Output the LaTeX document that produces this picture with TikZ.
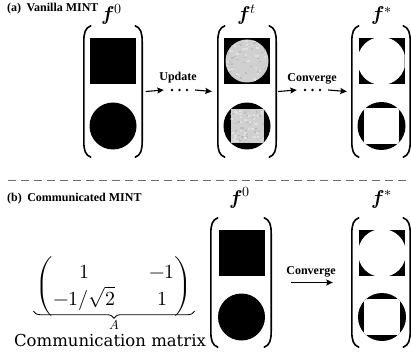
\documentclass[tikz,border=0pt]{standalone}
\usepackage{amsmath}
\usepackage{fontspec}
\usepackage{unicode-math}
\setmathfont{Latin Modern Math}
\newfontfamily\tnr{Liberation Serif}
\newfontfamily\dvs{DejaVu Serif}
\usetikzlibrary{arrows.meta,decorations.pathreplacing}
\definecolor{greyfill}{RGB}{208,208,208}
\definecolor{greydark}{RGB}{188,188,188}
\definecolor{greylight}{RGB}{224,224,224}
\definecolor{dashgrey}{RGB}{110,110,110}
\newcommand\speckle[3]{%
  \foreach \k in {1,...,70}{%
    \pgfmathsetmacro\rx{#1+(rnd-0.5)*2*#3}%
    \pgfmathsetmacro\ry{#2+(rnd-0.5)*2*#3}%
    \pgfmathsetmacro\rc{rnd}%
    \ifdim\rc pt<0.55pt \fill[greydark] (\rx,\ry) rectangle ++(2.2,1.6);\else \fill[greylight] (\rx,\ry) rectangle ++(2.4,2);\fi
  }}
\newcommand\parens[1]{%
  \draw[paren] ([xshift=7]#1.north west) .. controls ([xshift=1.5,yshift=-2]#1.north west) and ([yshift=-7]#1.north west) .. ([yshift=-16]#1.north west) -- ([yshift=16]#1.south west) .. controls ([yshift=7]#1.south west) and ([xshift=1.5,yshift=2]#1.south west) .. ([xshift=7]#1.south west);
  \draw[paren] ([xshift=-7]#1.north east) .. controls ([xshift=-1.5,yshift=-2]#1.north east) and ([yshift=-7]#1.north east) .. ([yshift=-16]#1.north east) -- ([yshift=16]#1.south east) .. controls ([yshift=7]#1.south east) and ([xshift=-1.5,yshift=2]#1.south east) .. ([xshift=-7]#1.south east);
}
\begin{document}
\begin{tikzpicture}[x=1pt,y=-1pt,
  colbox/.style={minimum width=58pt,minimum height=131pt,inner sep=0pt,draw=none},
  colboxb/.style={colbox,minimum height=129pt},
  paren/.style={line width=1.6pt,line cap=round},
  arr/.style={line width=1.1pt,-{Stealth[length=6.5pt,width=6pt,inset=1pt]}},
  dotsbox/.style={minimum width=31pt,minimum height=4pt,inner sep=0pt},
  boldlab/.style={font=\tnr\bfseries\fontsize{12}{14}\selectfont,inner sep=0pt},
  flab/.style={font=\fontsize{20}{24}\selectfont,inner sep=0pt,anchor=base},
  dashline/.style={dashgrey,line width=0.9pt,dash pattern=on 8pt off 5pt},
  bracestyle/.style={decorate,decoration={brace,mirror,amplitude=7pt},line width=0.8pt}
]
\useasboundingbox (0,0) rectangle (411,358);
\fill[white] (0,0) rectangle (411,358);
\pgfmathsetseed{7}

% ---------- (a) ----------
\node[boldlab,anchor=base west] (ta) at (7,11.5) {(a)\hspace{0.45em}Vanilla MINT};

\node[colbox] (c1) at (113,91.5) {};
\node[colbox] (c2) at (247,91.5) {};
\node[colbox] (c3) at (381,91.5) {};
\parens{c1}\parens{c2}\parens{c3}

\node[flab] (fa1) at (112,21) {$\mathbfit{f}^{0}$};
\node[flab] (fa2) at (247,21) {$\mathbfit{f}^{t}$};
\node[flab] (fa3) at (382,21) {$\mathbfit{f}^{*}$};

% column 1
\fill (90,38) rectangle (136,84);
\fill (113,126) circle (23.5);
% column 2
\fill (224,38) rectangle (270,84);
\fill[greyfill] (247,61) circle (21.5);
\begin{scope}
  \clip (247,61) circle (21.5);
  \speckle{247}{61}{22}
\end{scope}
\fill (247,126) circle (23.5);
\begin{scope}
  \clip (247,126) circle (23.5);
  \fill[greyfill] (230.5,109.5) rectangle (263.5,142.5);
  \clip (230.5,109.5) rectangle (263.5,142.5);
  \speckle{247}{126}{17}
\end{scope}
% column 3
\fill (358.5,38) rectangle (404.5,84);
\begin{scope}
  \clip (358.5,38) rectangle (404.5,84);
  \fill[white] (381.5,61) circle (24);
\end{scope}
\fill (381.5,126) circle (24);
\begin{scope}
  \clip (381.5,126) circle (24);
  \fill[white] (363.75,108.25) rectangle (399.25,143.75);
\end{scope}

% arrows (a)
\node[dotsbox] (u) at (179.5,90) {};
\foreach \dx in {-7.5,0,7.5} \fill ([xshift=\dx]u.center) circle (1.4);
\node[boldlab,anchor=base] (tu) at (178,81) {Update};
\draw[arr] ([xshift=3.5]c1.east) -- (u.west);
\draw[arr] (u.east) -- ([xshift=-6]c2.west);

\node[dotsbox] (v) at (312.5,90) {};
\foreach \dx in {-7.5,0,7.5} \fill ([xshift=\dx]v.center) circle (1.4);
\node[boldlab,anchor=base] (tc) at (312,82) {Converge};
\draw[arr] ([xshift=2]c2.east) -- (v.west);
\draw[arr] (v.east) -- ([xshift=-5]c3.west);

% dashed separator
\coordinate (dl1) at (8,180);
\coordinate (dl2) at (411,180);
\draw[dashline] (dl1) -- (dl2);

% ---------- (b) ----------
\node[boldlab,anchor=base west] (tb) at (7,201) {(b)\hspace{0.45em}Communicated MINT};

\node[inner sep=0pt,anchor=north] (mat) at (114,256)
  {\fontsize{20}{27}\selectfont\setlength\arraycolsep{17pt}$\begin{pmatrix}1 & -1\\ -1/\sqrt{2} & 1\end{pmatrix}$};
\draw[bracestyle] ([xshift=-2,yshift=5]mat.south west) -- ([xshift=2,yshift=5]mat.south east);
\node[inner sep=0pt,font=\fontsize{13}{15}\selectfont] (lA) at (114.5,324.5) {$A$};
\node[inner sep=0pt,anchor=base] (cm) at (110,346) {\dvs\fontsize{16.5}{19}\selectfont Communication matrix};

\node[colboxb,minimum width=60pt] (d1) at (241,282.5) {};
\node[colboxb] (d2) at (381,282.5) {};
\parens{d1}\parens{d2}

\node[flab] (fb1) at (240,204) {$\mathbfit{f}^{0}$};
\node[flab] (fb2) at (381.5,204) {$\mathbfit{f}^{*}$};

\fill (218.5,230) rectangle (264.5,276);
\fill (241.5,317) circle (23.5);

\fill (359,230) rectangle (405,276);
\begin{scope}
  \clip (359,230) rectangle (405,276);
  \fill[white] (382,253) circle (24);
\end{scope}
\fill (382,317) circle (24);
\begin{scope}
  \clip (382,317) circle (24);
  \fill[white] (364.25,299.25) rectangle (399.75,334.75);
\end{scope}

\node[boldlab,anchor=base] (tc2) at (311,274) {Converge};
\draw[arr] ([xshift=20]d1.east) -- ([xshift=-19]d2.west);
\end{tikzpicture}
\end{document}
